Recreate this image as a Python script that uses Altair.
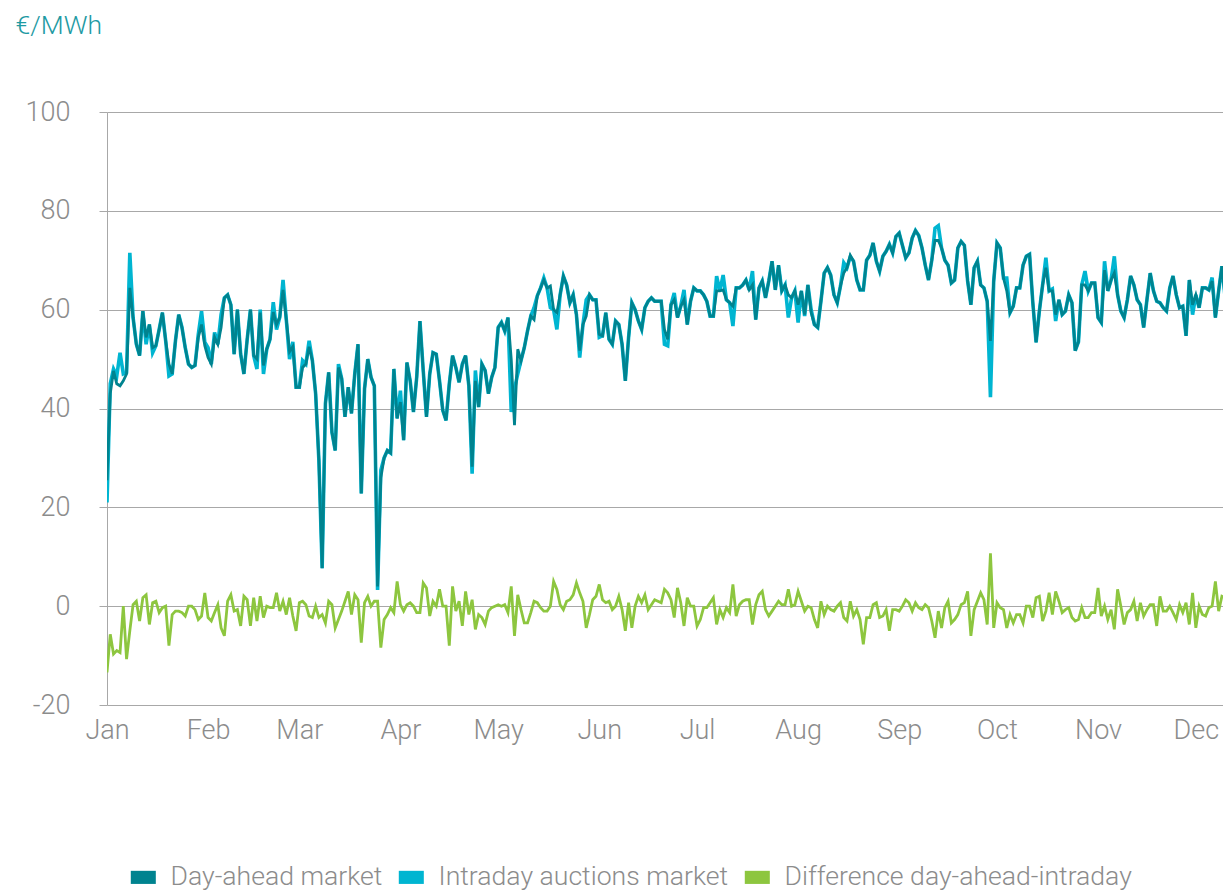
import altair as alt
import pandas as pd

# ---------------- data (daily values) ----------------
START_YEAR = 2018
series_names = ["Day-ahead market", "Intraday auctions market", "Difference day-ahead-intraday"]
series_colors = ["#00838f", "#00b5d1", "#8dc63f"]
month_numbers = [1, 2, 3, 4, 5, 6, 7, 8, 9, 10, 11, 12]
y_ticks = [-20, 0, 20, 40, 60, 80, 100]

day_ahead = [
    # Jan
    25.5, 43, 47.6, 45, 44.6, 45.6, 47, 64.4, 58.4, 53, 50.7, 59.7, 54.4, 57, 52.3, 52.7,
    56, 59.4, 53.7, 49, 47, 53.7, 59, 56.4, 52.3, 49, 48.3, 48.7, 54.4, 57, 52.7,
    # Feb
    50.3, 49, 54.4, 53, 56.4, 62.4, 63, 61, 51, 60, 51, 47, 54, 60, 50.7, 50, 59.4, 48.7,
    52, 54, 59.5, 57, 58.5, 64, 58, 51.5, 52.5, 44.3,
    # Mar
    44.3, 48.3, 49, 52.5, 49.7, 43, 29.5, 7.7, 41, 47.3, 35.2, 31.5, 48.3, 46, 38.3, 44.3,
    39, 47, 53, 22.8, 44, 50, 46.3, 44.6, 4, 26, 30, 31.5, 31, 48, 38,
    # Apr
    41.3, 33.6, 49.3, 45.6, 39.3, 46.3, 57.7, 47.7, 38.3, 47, 51.3, 51, 45.6, 39.6, 37.6,
    45, 50.7, 48.3, 45.3, 49, 50.7, 44.6, 28.2, 45.6, 40.3, 49, 47.7, 43, 46.3, 48.3,
    # May
    56.4, 57.4, 55.7, 58.4, 50, 36.6, 52, 49.7, 52.3, 55.7, 58.7, 58, 62.8, 64.4, 66, 64.4,
    64.8, 60, 59.4, 63, 66.8, 65, 61.4, 63, 59, 51.7, 57, 58.7, 63, 62, 62,
    # Jun
    55, 54.7, 59.4, 54, 53, 57.7, 57, 53, 45.6, 54.4, 61.4, 60, 57.7, 56, 60.4, 61.7, 62.4,
    61.7, 61.7, 61.7, 56, 54, 61, 62, 58.4, 60.7, 62, 57, 61.7, 64.4,
    # Jul
    63.8, 63.8, 63, 61.7, 58.7, 58.7, 63.8, 63.8, 64, 62, 61.4, 60.7, 64.4, 64.4, 65, 66,
    64, 65, 58, 64.4, 65.8, 62.4, 65.8, 69.8, 64, 69, 63.8, 65, 63, 62.4, 63.8,
    # Aug
    61, 63.8, 59, 65, 59.4, 57, 56.4, 61.7, 67.4, 68.5, 67, 63, 61.4, 64.8, 67.4, 68.5, 71,
    69.8, 66, 64, 64, 70, 71, 73.5, 69.8, 67.8, 70.8, 71.8, 73.2, 71.5, 74.8,
    # Sep
    75.5, 73, 70.5, 71.5, 74.5, 76, 75, 72.5, 69, 66, 70, 74, 74, 72.5, 70, 69, 65.4, 66,
    72.5, 73.8, 73, 65.8, 61, 68.5, 69.8, 65, 64.4, 61.7, 53.7, 65.8,
    # Oct
    73.5, 72.5, 66.4, 63.8, 59.4, 60.7, 64.4, 64.4, 69, 70.8, 71.2, 61.4, 53.4, 59.7, 65,
    68.5, 63.8, 63.8, 59, 62, 59, 59.7, 63, 61.4, 51.7, 53.5, 65, 65, 63.8, 65.4, 65.4,
    # Nov
    58.4, 57.4, 68, 63.8, 66, 67.4, 63, 59.7, 58.4, 62, 66.8, 65, 62, 61, 56.4, 62, 67.4,
    63.8, 61.7, 61.4, 60.4, 59.7, 64.4, 66.8, 63, 60.4, 60.7, 54.7, 66, 61,
    # Dec
    63, 60.4, 64.4, 64.4, 64, 65.8, 58.4, 63.8, 68.8, 62.4, 56,
]

intraday = [
    # Jan
    21, 45, 48, 46.6, 51.3, 47, 47.3, 71.5, 58.4, 53, 50.7, 59.7, 53, 57, 51.3, 52.7,
    56, 59.4, 53.7, 46.6, 47, 53.7, 59, 56.4, 52.3, 49, 48.3, 48.7, 55, 59.7, 53.4,
    # Feb
    52.3, 49, 55.4, 53, 59, 62.4, 63, 61, 51, 60, 51, 47, 54, 60, 50.7, 48, 60, 47,
    52, 54, 61.5, 56, 58.5, 66, 58, 50, 53.5, 44.3,
    # Mar
    44.3, 49.7, 49, 53.7, 49.7, 43, 29.5, 7.7, 41, 47.3, 35.2, 31.5, 49, 46, 38.3, 44.3,
    39, 47, 53, 22.8, 44, 50, 46.3, 44.6, 3.3, 27.5, 30, 31.5, 31, 48, 38,
    # Apr
    43.6, 33.6, 49.3, 45.6, 39.3, 46.3, 57.7, 47.7, 38.3, 47, 51.3, 51, 45.6, 39.6, 37.6,
    45, 50.7, 48.3, 45.3, 49, 50.7, 44.6, 26.8, 47.7, 40.3, 49, 47.7, 43, 46.3, 48.3,
    # May
    56.4, 57.4, 55.7, 58.4, 39.3, 44, 47, 49.7, 52.3, 55.7, 58.7, 60.4, 62.8, 64.4, 66.4,
    64.4, 60.4, 60, 56, 63, 66.8, 65, 61.4, 63, 59, 50.3, 57, 62, 63, 62, 62,
    # Jun
    54.4, 54.7, 59.4, 54, 53, 57.7, 57, 53, 45.6, 54.4, 61.4, 60, 57.7, 56, 60.4, 61.7,
    62.4, 61.7, 61.7, 61.7, 53, 52.7, 61, 63.4, 58.4, 60.7, 64, 57, 61.7, 64.4,
    # Jul
    63.8, 63.8, 63, 61.7, 58.7, 58.7, 66.8, 63.8, 67, 62, 61.4, 56.7, 64.4, 64.4, 65, 66,
    64, 67.8, 58, 64.4, 65.8, 62.4, 65.8, 69.8, 64, 69, 63.8, 65, 58.4, 62.4, 63.8,
    # Aug
    57.4, 63.8, 58.7, 65, 60, 57, 56.4, 61.7, 67.4, 68.5, 67, 63, 61.4, 64.8, 69.5, 68.5,
    70.7, 69.8, 66, 64, 64, 70, 71, 73.5, 69.8, 67.8, 70.8, 71.8, 73.2, 71.5, 74.8,
    # Sep
    75.5, 73, 70.5, 71.5, 74.5, 76, 75, 72.5, 69, 66, 70, 76.5, 77, 72.5, 70, 69, 65.4, 66,
    72.5, 73.8, 73, 65.8, 61, 68.5, 69.8, 65, 64.4, 61.7, 42.3, 65.8,
    # Oct
    73.5, 72.5, 66.4, 66.4, 59.4, 60.7, 64.4, 64.4, 69, 70.8, 71.2, 61.4, 53.4, 59.7, 65,
    70.5, 63.8, 64.2, 57.7, 62, 59, 59.7, 63, 61.4, 51.7, 53.5, 65, 67.8, 63.8, 65.4, 65.4,
    # Nov
    58.4, 57.4, 69.8, 63.8, 66, 70.8, 63, 59.7, 58.4, 62, 66.8, 65, 62, 61, 56.4, 62, 67.4,
    63.8, 61.7, 61.4, 60.4, 59.7, 64.4, 66.8, 63, 60.4, 60.7, 54.7, 66, 59,
    # Dec
    63, 60.4, 64.4, 64.4, 64, 66.5, 58.4, 63.8, 68.8, 62.4, 56,
]

difference = [
    # Jan
    -13.4, -5.7, -9.7, -9, -9.4, 0, -10.7, -5, 0.3, 1, -3, 1.7, 2.3, -3.7, 0.7, 1, -1.3,
    -0.3, 0, -8, -1.7, -1, -1, -1.3, -2, 0, 0, -0.7, -2.7, -2, 2.7,
    # Feb
    -2.3, -3, -1.3, 0.3, -4.4, -6, 1, 2.3, -1, -0.7, -4, 2, 1.3, -4, 1.7, -3, 2, -2.3, 0,
    -0.3, -0.3, 2.7, -1, 1, -1.7, 1.7, -2, -5,
    # Mar
    0.7, 1, 0.3, -2, -2.3, 0, -2.3, -1.7, -3.4, 1, 0.3, -4.4, -2.7, -1, 1, 3, -1.7, 2.3,
    1.3, -7.4, 0.7, 2, 0, 1, 1, -8.4, -2.7, -1.7, -0.3, -1.3, 5,
    # Apr
    0.3, -1, 0.3, 0.7, 0, -1.3, -1.3, 4.7, 3.7, -2, 1, 0, 3.4, 0, 0, -8, 4, -1, 1, -4, 3,
    -1.7, 1.3, -4.7, -1.7, -2.3, -3.7, -1, -0.3, 0,
    # May
    0.3, 0, 0.3, -1.3, 4, -6, 2.3, -0.7, -3.4, -3.4, -1.3, 1, 0.7, -0.3, -1, -1, 0, 5, 3.4,
    0.3, -0.7, 1, 1.3, 2.3, 4.7, 2.7, 1, -4.4, -1.7, 1.3, 2,
    # Jun
    4.4, 1.3, 0.7, 1, -0.7, 0, 2, -0.7, -5, 0.7, -4.4, 0, 2, 0.7, 2.3, -0.7, 0.3, 1.3, 1,
    0.7, 3.4, 2.7, 1.3, -2.3, 3.7, 0.7, -4, 1.7, 0, 0,
    # Jul
    -4, -2.7, -0.3, -0.3, 0.7, 1.7, -3.7, -0.7, -2.3, -0.3, -1.3, 4.4, -2, 0.3, 1, 1.3, 1.3,
    -3.7, 0.3, 2.3, 3, -0.7, -2, -1, 0, 1, 0.3, 0.3, 3.4, 0, 0.3,
    # Aug
    3, 1, -1, 0, -0.3, -2.7, -4.4, 1, -1.7, 0, -0.7, -1, 0, 0.7, -2.3, -3, 1, -2, -0.7,
    -2.7, -7.7, -2.3, -2.3, 0.3, 0.7, -2.3, -2, -0.7, -5, -0.7, -0.7,
    # Sep
    -1, 0, 1.3, 0.7, -1, 0.7, -0.3, -0.7, 0.3, -0.3, -3, -6.4, -1, -4.4, -0.3, 1, -3.4,
    -2.7, -1.7, 0.3, 0.7, 3, -6, -0.7, 1, 2.7, 1.3, -3.7, 10.7, -4.4,
    # Oct
    0.7, -0.3, -0.7, -4.4, -1.7, -3.4, -1.7, -1.7, -3.4, 0, 0, -2.3, 1.7, 2, -3, -1, 2.7,
    -1.7, 3, 1, -1.3, -0.7, -0.3, -2.3, -3, -2.7, -0.3, -2.3, -2.3, -1.3, -1.3,
    # Nov
    3.7, -2, 0, -2.7, -0.7, -4.7, 3.4, 0, -3.7, -1.3, -0.7, 1, -3, 0.7, -2, -0.7, 0.3, 0.3,
    -4, 2, -1, -1, 0, -1.3, -2.7, 0.3, -1.3, 0.7, -3.7, 2.7,
    # Dec
    -4.4, 0, -1.7, -2, -0.3, 0, 5, -1, 2, 1.7, -0.3,
]

# ---------------- table ----------------
dates = pd.date_range(f"{START_YEAR}-01-01", periods=len(day_ahead), freq="D")
frames = []
for name, vals in zip(series_names, [day_ahead, intraday, difference]):
    frames.append(pd.DataFrame({"date": dates, "value": vals, "series": name}))
df = pd.concat(frames, ignore_index=True)

FONT = "Roboto"
GREY = "#8c8c8c"
RULE = "#a8a8a8"
FS = 27

x = alt.X(
    "date:T",
    scale=alt.Scale(domain=[alt.DateTime(year=START_YEAR, month=1, date=1),
                            alt.DateTime(year=START_YEAR, month=12, date=9, hours=8)]),
    axis=alt.Axis(
        values=[alt.DateTime(year=START_YEAR, month=m, date=1) for m in month_numbers],
        format="%b", title=None, grid=False, domain=False, ticks=False,
        labelFont=FONT, labelFontSize=FS, labelFontWeight=300, labelColor=GREY,
        labelPadding=12, labelAlign="center",
    ),
)
y = alt.Y(
    "value:Q",
    scale=alt.Scale(domain=[-20, 100], nice=False, zero=False),
    axis=alt.Axis(
        values=y_ticks, labelExpr="'' + datum.value",
        title="€/MWh", titleAngle=0, titleAlign="left", titleBaseline="middle",
        titleX=-92, titleY=-87, titleFont=FONT, titleFontSize=26.5, titleFontWeight=300,
        titleColor="#1e9aa3",
        labelFont=FONT, labelFontSize=FS, labelFontWeight=300, labelColor=GREY,
        labelPadding=29, tickSize=8, tickColor=RULE, domainColor=RULE,
        gridColor=RULE, gridWidth=1,
    ),
)
color = alt.Color(
    "series:N",
    scale=alt.Scale(domain=series_names, range=series_colors),
    legend=alt.Legend(
        title=None, orient="none", legendX=23, legendY=752, direction="horizontal",
        symbolType="M-1,-0.3L1,-0.3L1,0.3L-1,0.3Z", symbolSize=290, symbolStrokeWidth=8,
        labelFont=FONT, labelFontSize=26.6, labelFontWeight=300, labelColor=GREY,
        labelOffset=14, columnPadding=3, labelLimit=600,
    ),
)

base = alt.Chart(df).encode(x=x, y=y, color=color)
stroke = {series_names[0]: 2.8, series_names[1]: 3.6, series_names[2]: 2.8}
layers = [
    base.transform_filter(alt.datum.series == name).mark_line(strokeWidth=stroke[name], clip=True)
    for name in [series_names[1], series_names[0], series_names[2]]
]

chart = (
    alt.layer(*layers)
    .properties(
        width=1116, height=593,
        autosize=alt.AutoSizeParams(type="none"),
        padding={"left": 99, "top": 104, "right": 0, "bottom": 189},
    )
    .configure_view(stroke=None)
)

chart.save("out.html", embed_options={"renderer": "svg", "actions": False})
